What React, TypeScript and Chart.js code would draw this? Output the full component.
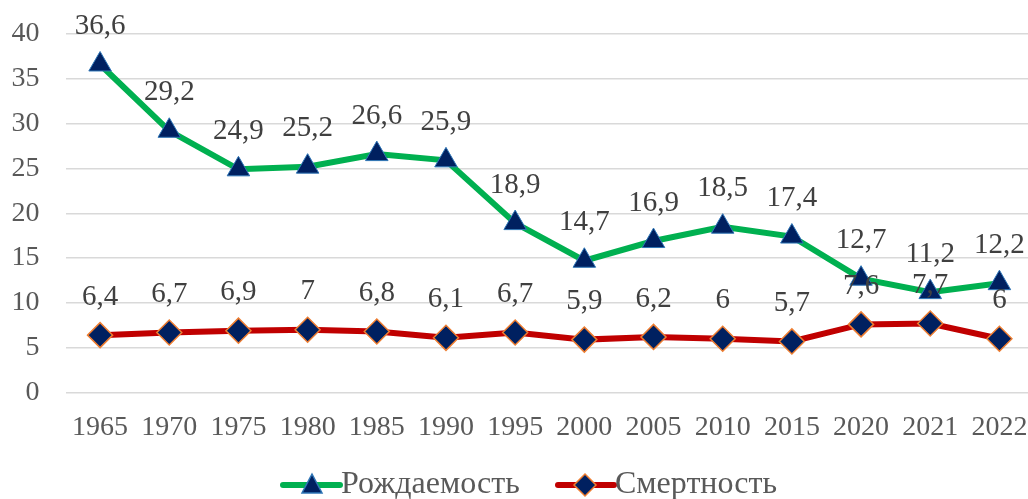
import React, { useEffect, useRef } from "react";
import { Chart, registerables } from "chart.js";

Chart.register(...registerables);

const years = ["1965", "1970", "1975", "1980", "1985", "1990", "1995", "2000", "2005", "2010", "2015", "2020", "2021", "2022"];
const births = [36.6, 29.2, 24.9, 25.2, 26.6, 25.9, 18.9, 14.7, 16.9, 18.5, 17.4, 12.7, 11.2, 12.2];
const deaths = [6.4, 6.7, 6.9, 7, 6.8, 6.1, 6.7, 5.9, 6.2, 6, 5.7, 7.6, 7.7, 6];
const seriesNames = ["Рождаемость", "Смертность"];
const yTicks = [0, 5, 10, 15, 20, 25, 30, 35, 40];

const FONT = "'Liberation Serif', 'Times New Roman', serif";

const fmt = (v: number) => String(v).replace(".", ",");

const labelPlugin = {
  id: "valueLabels",
  afterDatasetsDraw(chart: any) {
    const ctx = chart.ctx;
    ctx.save();
    ctx.font = `29px ${FONT}`;
    ctx.fillStyle = "#404040";
    ctx.textAlign = "center";
    ctx.textBaseline = "middle";
    chart.data.datasets.forEach((ds: any, i: number) => {
      const meta = chart.getDatasetMeta(i);
      meta.data.forEach((pt: any, j: number) => {
        ctx.fillText(fmt(ds.data[j]), pt.x, pt.y - 38);
      });
    });
    ctx.restore();
  },
};

const legendPlugin = {
  id: "customLegend",
  afterDraw(chart: any) {
    const ctx = chart.ctx;
    ctx.save();
    const y = 485;
    const items = [
      { x0: 283, x1: 340, mx: 312, text: seriesNames[0], line: "#00B050", fill: "#002060", border: "#2E75B6", shape: "triangle" },
      { x0: 558, x1: 614, mx: 585, text: seriesNames[1], line: "#C00000", fill: "#002060", border: "#ED7D31", shape: "diamond" },
    ];
    items.forEach((it) => {
      ctx.strokeStyle = it.line;
      ctx.lineWidth = 6;
      ctx.lineCap = "round";
      ctx.beginPath();
      ctx.moveTo(it.x0, y);
      ctx.lineTo(it.x1, y);
      ctx.stroke();
      ctx.fillStyle = it.fill;
      ctx.strokeStyle = it.border;
      ctx.lineWidth = 1.5;
      ctx.beginPath();
      if (it.shape === "triangle") {
        ctx.moveTo(it.mx, y - 11);
        ctx.lineTo(it.mx + 10, y + 8);
        ctx.lineTo(it.mx - 10, y + 8);
      } else {
        ctx.moveTo(it.mx, y - 11);
        ctx.lineTo(it.mx + 11, y);
        ctx.lineTo(it.mx, y + 11);
        ctx.lineTo(it.mx - 11, y);
      }
      ctx.closePath();
      ctx.fill();
      ctx.stroke();
      ctx.font = `32px ${FONT}`;
      ctx.fillStyle = "#595959";
      ctx.textAlign = "left";
      ctx.textBaseline = "middle";
      ctx.fillText(it.text, it.x1 + 1, y);
    });
    ctx.restore();
  },
};

export default function App() {
  const ref = useRef<HTMLCanvasElement | null>(null);
  useEffect(() => {
    document.body.style.margin = "0";
    document.body.style.overflow = "hidden";
    const chart = new Chart(ref.current!, {
      type: "line",
      data: {
        labels: years,
        datasets: [
          {
            label: seriesNames[0],
            data: births,
            borderColor: "#00B050",
            borderWidth: 6,
            pointStyle: "triangle",
            pointRadius: 13,
            pointBackgroundColor: "#002060",
            pointBorderColor: "#2E75B6",
            pointBorderWidth: 1,
            tension: 0,
          },
          {
            label: seriesNames[1],
            data: deaths,
            borderColor: "#C00000",
            borderWidth: 6,
            pointStyle: "rectRot",
            pointRadius: 12.5,
            pointBackgroundColor: "#002060",
            pointBorderColor: "#ED7D31",
            pointBorderWidth: 1.5,
            tension: 0,
          },
        ],
      },
      options: {
        animation: false,
        responsive: false,
        layout: { autoPadding: false, padding: { top: 34, right: 0, bottom: 0, left: 0 } },
        plugins: { legend: { display: false }, tooltip: { enabled: false } },
        scales: {
          x: {
            offset: true,
            grid: { display: false, drawTicks: false },
            border: { display: false },
            ticks: { color: "#595959", font: { family: FONT, size: 28 }, padding: 18, maxRotation: 0, autoSkip: false },
            afterFit: (s: any) => { s.height = 106.5; s.paddingLeft = 0; s.paddingRight = 0; },
          },
          y: {
            min: 0,
            max: 40,
            afterBuildTicks: (s: any) => { s.ticks = yTicks.map((v) => ({ value: v })); },
            grid: { color: "#D9D9D9", lineWidth: 1.5, drawTicks: false },
            border: { display: false },
            ticks: { color: "#595959", font: { family: FONT, size: 28 }, padding: 26 },
            afterFit: (s: any) => { s.width = 65.5; s.paddingTop = 0; s.paddingBottom = 0; },
          },
        },
      },
      plugins: [labelPlugin, legendPlugin],
    });
    return () => chart.destroy();
  }, []);
  return (
    <div style={{ position: "fixed", left: 0, top: 0, width: 1028, height: 499, overflow: "hidden", background: "#fff" }}>
      <canvas ref={ref} width={1034} height={499} style={{ display: "block" }} />
    </div>
  );
}
